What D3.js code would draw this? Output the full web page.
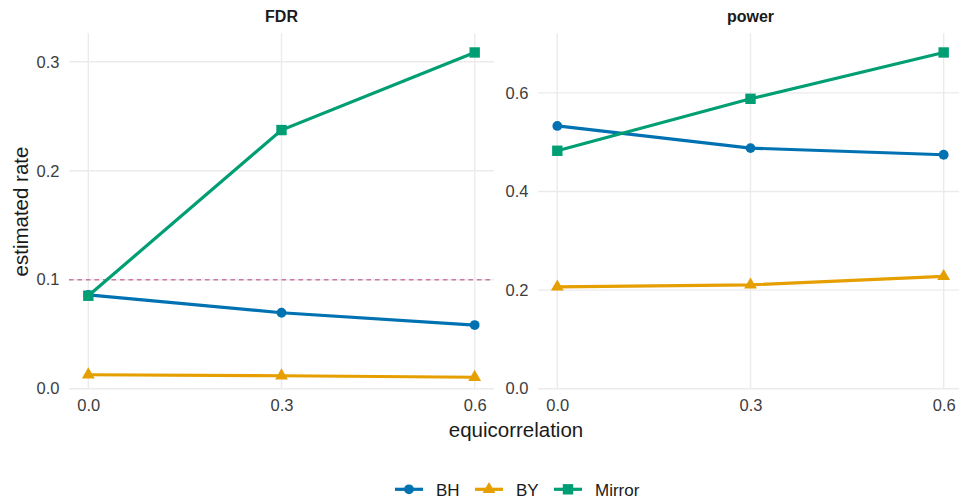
<!DOCTYPE html>
<html>
<head>
<meta charset="utf-8">
<script src="https://cdn.jsdelivr.net/npm/d3@7"></script>
<style>
  html, body { margin: 0; padding: 0; background: #fff; }
  svg { display: block; font-family: "Liberation Sans", Arial, sans-serif; }
</style>
</head>
<body>
<svg id="chart" width="959" height="500"></svg>
<script>
// ---- data ----
const categories = [0.0, 0.3, 0.6];
const xTickLabels = ["0.0", "0.3", "0.6"];
const methods = ["BH", "BY", "Mirror"];
const panels = ["FDR", "power"];
const fdrBH = [0.086, 0.0697, 0.0584];
const fdrBY = [0.0128, 0.0119, 0.0105];
const fdrMirror = [0.0853, 0.2373, 0.3085];
const powerBH = [0.533, 0.488, 0.4745];
const powerBY = [0.2065, 0.2106, 0.228];
const powerMirror = [0.4826, 0.588, 0.682];
const fdrTicks = [0, 0.1, 0.2, 0.3];
const powerTicks = [0, 0.2, 0.4, 0.6];
const fdrTarget = 0.1;

// ---- style ----
const colors = { BH: "#0072B2", BY: "#E69F00", Mirror: "#009E73" };
const shapes = { BH: "circle", BY: "triangle", Mirror: "square" };
const gridColor = "#EBEBEB";
const tickColor = "#3d3d3d";
const tickSize = 16.5;

const svg = d3.select("#chart");

const panelDefs = [
  { name: panels[0], left: 69, right: 494, series: { BH: fdrBH, BY: fdrBY, Mirror: fdrMirror }, ticks: fdrTicks, hline: fdrTarget },
  { name: panels[1], left: 538, right: 963, series: { BH: powerBH, BY: powerBY, Mirror: powerMirror }, ticks: powerTicks, hline: null }
];
const panelTop = 33.3, panelBottom = 388.7;

function markerPath(shape, cx, cy) {
  if (shape === "circle") {
    const r = 4.9;
    return `M${cx - r},${cy}a${r},${r} 0 1,0 ${2 * r},0a${r},${r} 0 1,0 ${-2 * r},0Z`;
  }
  if (shape === "square") {
    const h = 5.2;
    return `M${cx - h},${cy - h}H${cx + h}V${cy + h}H${cx - h}Z`;
  }
  const r = 7.4;
  return `M${cx},${cy - r}L${cx + r * Math.sqrt(3) / 2},${cy + r / 2}L${cx - r * Math.sqrt(3) / 2},${cy + r / 2}Z`;
}

panelDefs.forEach(p => {
  const x = d3.scaleLinear().domain([-0.03, 0.63]).range([p.left, p.right]);
  const allVals = methods.flatMap(m => p.series[m]);
  const y = d3.scaleLinear().domain([0, d3.max(allVals) * 1.057]).range([panelBottom, panelTop]);
  const g = svg.append("g");

  // grid
  g.selectAll("line.hgrid").data(p.ticks).join("line")
    .attr("x1", p.left).attr("x2", Math.min(p.right, 959))
    .attr("y1", d => y(d)).attr("y2", d => y(d))
    .attr("stroke", gridColor).attr("stroke-width", 1.4);
  g.selectAll("line.vgrid").data(categories).join("line")
    .attr("x1", d => x(d)).attr("x2", d => x(d))
    .attr("y1", panelTop).attr("y2", panelBottom)
    .attr("stroke", gridColor).attr("stroke-width", 1.4);

  // axes
  const yAxis = d3.axisLeft(y).tickValues(p.ticks).tickFormat(d3.format(".1f")).tickSize(0).tickPadding(9.5);
  const ya = g.append("g").attr("transform", `translate(${p.left},0)`).call(yAxis);
  ya.select(".domain").remove();
  ya.selectAll("text").attr("font-size", tickSize).attr("fill", tickColor).attr("font-family", "Liberation Sans, Arial, sans-serif");

  const xAxis = d3.axisBottom(x).tickValues(categories).tickFormat((d, i) => xTickLabels[i]).tickSize(0).tickPadding(11);
  const xa = g.append("g").attr("transform", `translate(0,${panelBottom})`).call(xAxis);
  xa.select(".domain").remove();
  xa.selectAll("text").attr("font-size", tickSize).attr("fill", tickColor).attr("font-family", "Liberation Sans, Arial, sans-serif");

  // reference line
  if (p.hline !== null) {
    g.append("line")
      .attr("x1", p.left).attr("x2", p.right)
      .attr("y1", y(p.hline)).attr("y2", y(p.hline))
      .attr("stroke", "#CC79A7").attr("stroke-width", 1.6).attr("stroke-dasharray", "4.5,4");
  }

  // lines and markers
  const line = d3.line().x((d, i) => x(categories[i])).y(d => y(d));
  methods.forEach(m => {
    g.append("path").datum(p.series[m]).attr("d", line)
      .attr("fill", "none").attr("stroke", colors[m]).attr("stroke-width", 3.2);
  });
  methods.forEach(m => {
    g.selectAll(null).data(p.series[m]).join("path")
      .attr("d", (d, i) => markerPath(shapes[m], x(categories[i]), y(d)))
      .attr("fill", colors[m]);
  });

  // panel title
  g.append("text").attr("x", x(0.3)).attr("y", 22)
    .attr("text-anchor", "middle").attr("font-size", 16).attr("font-weight", "bold").attr("fill", "#1a1a1a")
    .text(p.name);
});

// axis titles
svg.append("text").attr("transform", "translate(27.5,211.5) rotate(-90)")
  .attr("text-anchor", "middle").attr("font-size", 20.5).attr("fill", "#1a1a1a").text("estimated rate");
svg.append("text").attr("x", 516).attr("y", 436.5)
  .attr("text-anchor", "middle").attr("font-size", 20.5).attr("fill", "#1a1a1a").text("equicorrelation");

// legend
const legendX = [395, 475, 554];
const legend = svg.append("g");
methods.forEach((m, i) => {
  const lx = legendX[i], ly = 489.3;
  legend.append("line").attr("x1", lx).attr("x2", lx + 28).attr("y1", ly).attr("y2", ly)
    .attr("stroke", colors[m]).attr("stroke-width", 3.2);
  legend.append("path").attr("d", markerPath(shapes[m], lx + 14, ly)).attr("fill", colors[m]);
  legend.append("text").attr("x", lx + 41).attr("y", 495.5)
    .attr("font-size", 17).attr("fill", "#1a1a1a").text(m);
});
</script>
</body>
</html>
